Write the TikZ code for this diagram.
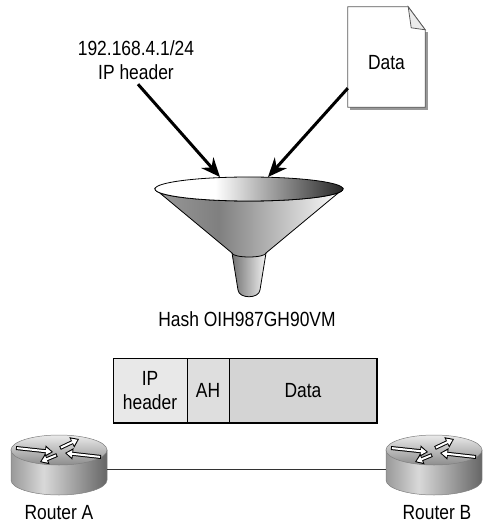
\documentclass[tikz,border=0pt]{standalone}
\usepackage{fontspec}
\setmainfont[FakeStretch=0.85]{Liberation Sans}
\usetikzlibrary{arrows.meta,positioning}

\pgfdeclarehorizontalshading{rimshade}{100bp}{color(0bp)=(white); color(25bp)=(white); color(41bp)=(white); color(75bp)=(black!85); color(100bp)=(black!85)}
\pgfdeclarehorizontalshading{coneshade}{100bp}{color(0bp)=(black!40); color(25bp)=(black!40); color(42bp)=(black!50); color(75bp)=(white); color(100bp)=(white)}
\pgfdeclarehorizontalshading{rtbody}{100bp}{color(0bp)=(black!40); color(25bp)=(black!40); color(42bp)=(black!15); color(75bp)=(black!60); color(100bp)=(black!60)}

\begin{document}
\begin{tikzpicture}[x=1pt,y=1pt,>={Stealth[length=19pt,width=16pt]},
  lbl/.style={align=center,inner sep=2pt,font=\fontsize{20.5}{24.5}\selectfont},
  cell/.style={lbl,draw,line width=1pt,minimum height=65pt,inner sep=0pt,outer sep=0pt},
  feed/.style={->,line width=3pt},
  outline/.style={draw=black,line width=0.8pt},
  docline/.style={draw=black!65,line width=0.8pt},
  rtout/.style={line width=4pt,-{Triangle[length=8pt,width=11pt]}},
  rtin/.style={white,line width=2pt,shorten >=1.6pt,shorten <=1pt,-{Triangle[length=5.5pt,width=7pt]}},
  router/.pic={
    \shadedraw[draw=black!50,line width=0.5pt,shading=rtbody] (-48,0) -- (-48,-30) arc (180:360:48 and 15) -- (48,0) -- cycle;
    \shadedraw[draw=black!50,line width=0.5pt,top color=black!8,bottom color=black!45] (0,0) ellipse (48 and 15);
    \foreach \sx/\sy/\ex/\ey in {-43/2/-6/-2,42/-7/6/-3,1/2/20/11,-2/-5/-19/-12}{
      \draw[rtout] (\sx,\sy) -- (\ex,\ey);
      \draw[rtin] (\sx,\sy) -- (\ex,\ey);}
    \coordinate (-w) at (-48,-19);
    \coordinate (-e) at (48,-19);}]
  \useasboundingbox (0,0) rectangle (482,-526);

  \node[lbl] (iplabel) at (136,-60) {192.168.4.1/24\\IP header};
  \node[minimum width=77pt,minimum height=100pt,inner sep=0pt] (doc) at (386.5,-57) {};
  \fill[black!40] ([xshift=2.5pt,yshift=-2.5pt]doc.south west) rectangle ([xshift=2.5pt,yshift=-25.5pt]doc.north east);
  \draw[docline,fill=white] (doc.north west) -- ([xshift=-17pt]doc.north east) -- ([yshift=-23pt]doc.north east) -- (doc.south east) -- (doc.south west) -- cycle;
  \draw[docline,fill=black!8] ([xshift=-17pt]doc.north east) -- ([xshift=-14pt,yshift=-21pt]doc.north east) -- ([yshift=-23pt]doc.north east) -- cycle;
  \node[lbl] (doctext) at ([yshift=-6pt]doc.center) {Data};

  % funnel
  \shadedraw[outline,left color=black!55,right color=black!5] (232,-253) -- (238,-290) .. controls (239,-299) and (259,-299) .. (260,-290) -- (266,-253) -- cycle;
  \shadedraw[outline,shading=coneshade] (155,-189) -- (232,-253) arc (180:360:17 and 4) -- (343,-189) arc (0:-180:94 and 12) -- cycle;
  \shadedraw[outline,shading=rimshade] (249,-189) ellipse (94 and 12);
  \coordinate (inleft) at (220,-177);
  \coordinate (inright) at (268,-177);
  \draw[feed,shorten <=3pt] (iplabel.south) -- (inleft);
  \draw[feed] ([yshift=19pt]doc.south west) -- (inright);
  \node[lbl] (hash) at (247,-319) {Hash OIH987GH90VM};

  % packet
  \node[cell,minimum width=74pt,fill=black!9] (iphdr) at (150,-390.5) {IP\\header};
  \node[cell,minimum width=42pt,fill=black!13,right=0pt of iphdr] (ah) {AH};
  \node[cell,minimum width=148pt,fill=black!17,right=0pt of ah] (payload) {Data};
  \draw[line width=2pt] ([yshift=-0.5pt]payload.north east) -- (payload.south east) -- (iphdr.south west);

  % routers
  \pic (ra) at (59,-450) {router};
  \pic (rb) at (434,-450) {router};
  \draw[line width=1pt,black!80] (ra-e) -- (rb-w);
  \node[lbl] (ralabel) at (59,-513) {Router A};
  \node[lbl] (rblabel) at (437,-513) {Router B};
\end{tikzpicture}
\end{document}
